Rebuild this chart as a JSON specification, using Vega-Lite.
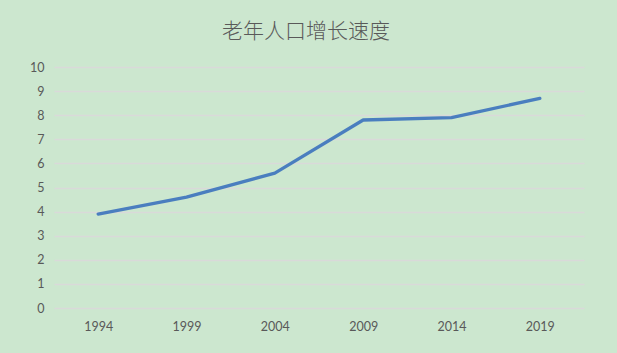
{
  "$schema": "https://vega.github.io/schema/vega-lite/v6.json",
  "width": 530,
  "height": 241,
  "autosize": {"type": "none"},
  "padding": {"left": 54, "top": 67, "right": 33, "bottom": 45},
  "background": "#CCE7CF",
  "title": {
    "text": "老年人口增长速度",
    "font": "Noto Sans CJK SC",
    "fontSize": 21,
    "fontWeight": 300,
    "color": "#595959",
    "anchor": "middle",
    "frame": "group",
    "offset": 19,
    "dx": -13
  },
  "data": {
    "values": [
      {"year": "1994", "value": 3.9},
      {"year": "1999", "value": 4.6},
      {"year": "2004", "value": 5.6},
      {"year": "2009", "value": 7.8},
      {"year": "2014", "value": 7.9},
      {"year": "2019", "value": 8.7}
    ]
  },
  "mark": {"type": "line", "color": "#4A7EBF", "strokeWidth": 3.3, "strokeJoin": "round", "strokeCap": "round"},
  "encoding": {
    "x": {
      "field": "year",
      "type": "ordinal",
      "scale": {"type": "point", "padding": 0.5},
      "axis": {
        "title": null,
        "labelAngle": 0,
        "domain": false,
        "ticks": false,
        "grid": false,
        "labelPadding": 12,
        "labelFont": "Lato",
        "labelFontSize": 12.5,
        "labelColor": "#595959"
      }
    },
    "y": {
      "field": "value",
      "type": "quantitative",
      "scale": {"domain": [0, 10], "nice": false},
      "axis": {
        "title": null,
        "values": [0, 1, 2, 3, 4, 5, 6, 7, 8, 9, 10],
        "domain": false,
        "ticks": false,
        "gridColor": "#D9D9D9",
        "gridWidth": 1.5,
        "labelPadding": 10,
        "labelFont": "Lato",
        "labelFontSize": 12.5,
        "labelColor": "#595959"
      }
    }
  },
  "config": {"view": {"stroke": null}}
}
